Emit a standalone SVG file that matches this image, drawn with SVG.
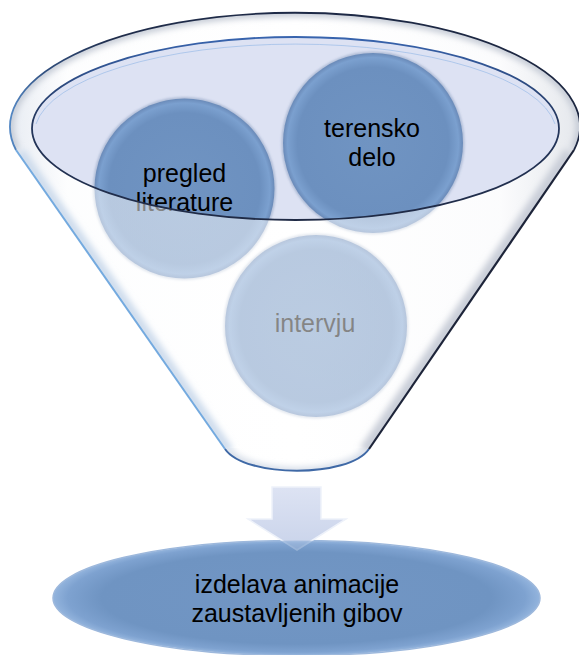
<svg xmlns="http://www.w3.org/2000/svg" width="579" height="655" viewBox="0 0 579 655">
<defs>
<style>
text { font-family: "Liberation Sans", Arial, sans-serif; font-size: 25px; fill: #000; text-anchor: middle; }
.ball { fill: url(#ballGrad); }
.ring { fill: none; stroke: #55729e; stroke-width: 3; stroke-opacity: 0.35; filter: url(#blur1); }
.shade { fill: none; filter: url(#blur3); }
</style>
<filter id="blur1" x="-10%" y="-10%" width="120%" height="120%"><feGaussianBlur stdDeviation="1"/></filter>
<filter id="blur3" x="-10%" y="-10%" width="120%" height="120%"><feGaussianBlur stdDeviation="3"/></filter>
<radialGradient id="ballGrad" cx="0.5" cy="0.5" r="0.5">
<stop offset="0" stop-color="#7094c2"/>
<stop offset="0.84" stop-color="#6c90bf"/>
<stop offset="0.95" stop-color="#7ba0cf"/>
<stop offset="1" stop-color="#6a8ab8"/>
</radialGradient>
<linearGradient id="overlayGrad" x1="0" y1="0" x2="1" y2="0">
<stop offset="0" stop-color="#d3dbe8"/>
<stop offset="0.1" stop-color="#fbfcfd"/>
<stop offset="0.5" stop-color="#ffffff"/>
<stop offset="0.86" stop-color="#f8f9fb"/>
<stop offset="1" stop-color="#cdd2db"/>
</linearGradient>
<linearGradient id="rimStroke" gradientUnits="userSpaceOnUse" x1="0" y1="0" x2="579" y2="0">
<stop offset="0" stop-color="#5e98d8"/>
<stop offset="0.08" stop-color="#2f4d7c"/>
<stop offset="0.2" stop-color="#1f2c4a"/>
<stop offset="1" stop-color="#1c2640"/>
</linearGradient>
<linearGradient id="innerStroke" x1="0" y1="0" x2="0" y2="1">
<stop offset="0" stop-color="#3864ae"/>
<stop offset="0.45" stop-color="#24375e"/>
<stop offset="1" stop-color="#1f2a45"/>
</linearGradient>
<radialGradient id="bottomGrad" cx="0.5" cy="0.5" r="0.5">
<stop offset="0" stop-color="#7296c4"/>
<stop offset="0.8" stop-color="#6f94c2"/>
<stop offset="0.94" stop-color="#7ea2d0"/>
<stop offset="1" stop-color="#93b4dd"/>
</radialGradient>
<linearGradient id="arrowGrad" x1="0" y1="0" x2="0" y2="1">
<stop offset="0" stop-color="#dde3f3"/>
<stop offset="1" stop-color="#c9d3ea"/>
</linearGradient>
<clipPath id="funnelClip">
<path d="M16,150 L225,449 C245,478 349,478 369,449 L574,150 A285,114 0 1 0 16,150 Z"/>
</clipPath>
<clipPath id="bandClip">
<path clip-rule="evenodd" d="M10,127 A285,114 0 1 1 580,127 A285,114 0 1 1 10,127 Z M32,128.5 A263.5,91.5 0 1 0 559,128.5 A263.5,91.5 0 1 0 32,128.5 Z"/>
</clipPath>
<mask id="arrowMask" maskUnits="userSpaceOnUse" x="0" y="0" width="579" height="655">
<rect width="579" height="655" fill="#fff"/>
<ellipse cx="296.5" cy="598" rx="243.5" ry="57.5" fill="#4a4a4a"/>
</mask>
</defs>

<g id="funnel-back">
<path d="M16,150 L225,449 C245,478 349,478 369,449 L574,150 A285,114 0 1 0 16,150 Z" fill="#ffffff"/>
<ellipse cx="295.5" cy="128.5" rx="263.5" ry="91.5" fill="#dde2f3"/>
</g>

<g id="node-pregled">
<circle class="ring" cx="184.5" cy="188.5" r="90"/>
<circle class="ball" cx="184.5" cy="188.5" r="90"/>
<text x="184.5" y="182">pregled</text>
<text x="184.5" y="211">literature</text>
</g>

<g id="node-terensko">
<circle class="ring" cx="373" cy="143" r="90"/>
<circle class="ball" cx="373" cy="143" r="90"/>
<text x="372" y="137">terensko</text>
<text x="372" y="166">delo</text>
</g>

<g id="node-intervju">
<circle class="ring" cx="316" cy="326" r="91"/>
<circle class="ball" cx="316" cy="326" r="91"/>
<text x="315" y="332">intervju</text>
</g>

<g id="funnel-front">
<path fill-rule="evenodd" fill="url(#overlayGrad)" fill-opacity="0.52" d="M16,150 L225,449 C245,478 349,478 369,449 L574,150 A285,114 0 1 0 16,150 Z M32,128.5 A263.5,91.5 0 1 0 559,128.5 A263.5,91.5 0 1 0 32,128.5 Z"/>
<g clip-path="url(#bandClip)">
<path class="shade" d="M16,150 A285,114 0 1 1 574,150" stroke="#c3c9d4" stroke-width="8"/>
</g>
<g clip-path="url(#funnelClip)">
<path class="shade" d="M20,152 L229,451" stroke="#cddbec" stroke-width="10"/>
<path class="shade" d="M570,152 L365,451" stroke="#c9ced8" stroke-width="12"/>
<path class="shade" d="M228,451 C248,478 346,478 366,451" stroke="#d6dde8" stroke-width="8"/>
</g>
<path d="M16,150 A285,114 0 1 1 574,150" fill="none" stroke="url(#rimStroke)" stroke-width="1.8"/>
<path d="M16,150 L225,449" fill="none" stroke="#74aadf" stroke-width="2"/>
<path d="M225,449 C245,478 349,478 369,449" fill="none" stroke="#3f69a6" stroke-width="2"/>
<path d="M369,449 L574,150" fill="none" stroke="#1d2439" stroke-width="2.2"/>
<ellipse cx="295.5" cy="128.5" rx="263.5" ry="91.5" fill="none" stroke="url(#innerStroke)" stroke-width="1.8"/>
<path d="M36,124 A261,89.5 0 0 1 555,124" fill="none" stroke="#8fb6e6" stroke-width="1" stroke-opacity="0.6"/>
</g>

<g id="node-izdelava">
<ellipse cx="296.5" cy="598" rx="243.5" ry="57.5" fill="url(#bottomGrad)" stroke="#9db8dc" stroke-width="1.5"/>
<text x="297" y="593">izdelava animacije</text>
<text x="297" y="622">zaustavljenih gibov</text>
</g>

<g id="connectors">
<polygon points="272,487 321,487 321,519 346,519 297,550 248,519 272,519" fill="url(#arrowGrad)" stroke="#eef2fa" stroke-width="1.5" mask="url(#arrowMask)"/>
</g>
</svg>
